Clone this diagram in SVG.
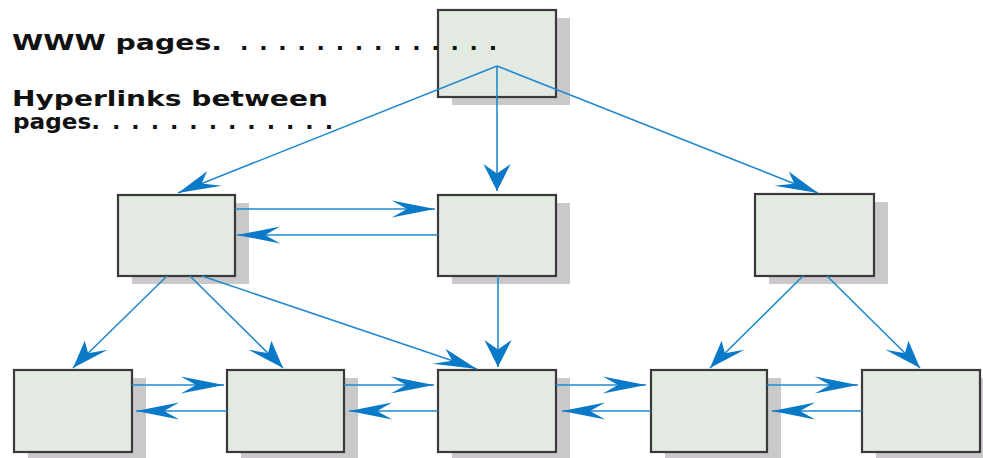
<svg xmlns="http://www.w3.org/2000/svg" width="983" height="458" viewBox="0 0 983 458">
<style>
.shadow{fill:#c9c9c9}
.box{fill:#e2eae2;stroke:#3a3a3a;stroke-width:2.2}
.lbl{font-family:"DejaVu Sans","Liberation Sans",sans-serif;font-weight:bold;font-size:22px;fill:#111}
.link{stroke:#2189cf;stroke-width:1.6;fill:none;vector-effect:non-scaling-stroke}
</style>
<defs>
<marker id="ah" markerUnits="userSpaceOnUse" markerWidth="27" markerHeight="17" refX="27" refY="8.5" orient="auto" overflow="visible">
<path d="M27,8.5 L0,0 L9.5,8.5 L0,17 Z" fill="#0a79c7"/>
</marker>
</defs>
<rect width="983" height="458" fill="#fff"/>

<g id="page-top"><rect class="shadow" x="452" y="18" width="118" height="87"/><rect class="box" x="438" y="10" width="118" height="87"/></g>
<g id="page-mid-left"><rect class="shadow" x="132" y="203" width="117" height="81"/><rect class="box" x="118" y="195" width="117" height="81"/></g>
<g id="page-mid-center"><rect class="shadow" x="452" y="203" width="118" height="81"/><rect class="box" x="438" y="195" width="118" height="81"/></g>
<g id="page-mid-right"><rect class="shadow" x="769" y="202" width="119" height="82"/><rect class="box" x="755" y="194" width="119" height="82"/></g>
<g id="page-bot-1"><rect class="shadow" x="28" y="378" width="118" height="82"/><rect class="box" x="14" y="370" width="118" height="82"/></g>
<g id="page-bot-2"><rect class="shadow" x="241" y="378" width="117" height="82"/><rect class="box" x="227" y="370" width="117" height="82"/></g>
<g id="page-bot-3"><rect class="shadow" x="452" y="378" width="118" height="82"/><rect class="box" x="438" y="370" width="118" height="82"/></g>
<g id="page-bot-4"><rect class="shadow" x="665" y="378" width="116" height="82"/><rect class="box" x="651" y="370" width="116" height="82"/></g>
<g id="page-bot-5"><rect class="shadow" x="876" y="378" width="118" height="82"/><rect class="box" x="862" y="370" width="118" height="82"/></g>

<g id="legend">
<text class="lbl" x="12" y="50"><tspan textLength="210" lengthAdjust="spacingAndGlyphs">WWW pages.</tspan><tspan x="240" textLength="257" lengthAdjust="spacing">. . . . . . . . . . . . . .</tspan></text>
<text class="lbl" x="12" y="106" textLength="316" lengthAdjust="spacingAndGlyphs">Hyperlinks between</text>
<text class="lbl" x="13" y="129"><tspan textLength="87" lengthAdjust="spacingAndGlyphs">pages.</tspan><tspan x="112" textLength="221" lengthAdjust="spacing">. . . . . . . . . . . .</tspan></text>
</g>

<g id="connectors" transform="scale(1.6,1)">
<path class="link" marker-end="url(#ah)" d="M310.625,66 L111.25,193"/>
<path class="link" marker-end="url(#ah)" d="M310.625,66 L310.625,191"/>
<path class="link" marker-end="url(#ah)" d="M310.625,66 L511.25,193"/>
<path class="link" marker-end="url(#ah)" d="M146.875,209 L271.875,209"/>
<path class="link" marker-end="url(#ah)" d="M273.75,235 L148.125,235"/>
<path class="link" marker-end="url(#ah)" d="M104.375,276 L45.625,368"/>
<path class="link" marker-end="url(#ah)" d="M118.75,276 L176.875,368"/>
<path class="link" marker-end="url(#ah)" d="M126.25,276 L298.125,369"/>
<path class="link" marker-end="url(#ah)" d="M311.25,276 L311.25,367"/>
<path class="link" marker-end="url(#ah)" d="M501.875,276 L443.75,368"/>
<path class="link" marker-end="url(#ah)" d="M516.875,276 L575,368"/>
<path class="link" marker-end="url(#ah)" d="M82.5,385 L140,385"/>
<path class="link" marker-end="url(#ah)" d="M141.875,411 L85,411"/>
<path class="link" marker-end="url(#ah)" d="M215,385 L271.25,385"/>
<path class="link" marker-end="url(#ah)" d="M273.75,411 L218.125,411"/>
<path class="link" marker-end="url(#ah)" d="M347.5,385 L403.75,385"/>
<path class="link" marker-end="url(#ah)" d="M406.875,411 L351.25,411"/>
<path class="link" marker-end="url(#ah)" d="M479.375,385 L536.25,385"/>
<path class="link" marker-end="url(#ah)" d="M538.75,411 L482.5,411"/>
</g>
</svg>
